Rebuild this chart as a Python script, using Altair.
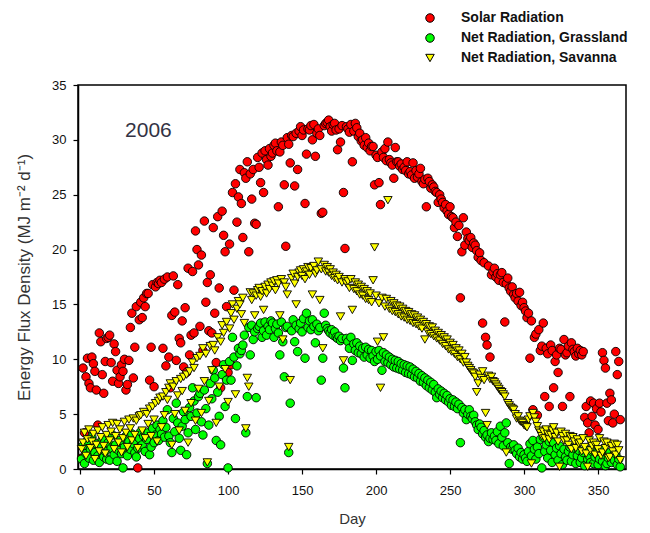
import altair as alt
import pandas as pd

days = list(range(1, 366))

solar = [
    1.0, 9.2, 3.3, 8.4, 10.1, 7.8, 7.4, 10.2, 9.6, 8.9,
    7.2, 4.0, 12.4, 11.6, 8.6, 6.9, 9.8, 11.9, 12.0, 12.2,
    9.7, 8.0, 11.4, 10.7, 9.0, 7.8, 8.4, 9.5, 8.9, 10.0,
    7.2, 7.7, 9.9, 12.9, 14.2, 8.3, 11.1, 14.8, 0.1, 13.6,
    15.2, 13.8, 15.6, 14.8, 16.0, 16.0, 8.1, 11.1, 16.8, 7.5,
    16.6, 17.0, 16.9, 17.2, 17.0, 11.0, 17.3, 9.4, 17.5, 10.2,
    7.4, 14.0, 17.6, 14.3, 9.9, 16.8, 11.9, 11.5, 13.5, 9.3,
    14.7, 8.8, 18.3, 10.4, 12.2, 18.0, 12.4, 21.7, 20.0, 18.6,
    13.0, 19.5, 10.8, 22.6, 15.2, 17.0, 12.6, 17.7, 12.4, 22.0,
    14.2, 9.7, 23.0, 16.5, 7.4, 23.5, 21.3, 19.8, 14.8, 8.8,
    20.5, 9.5, 25.2, 16.3, 26.0, 22.5, 24.8, 27.3, 24.2, 21.1,
    27.0, 26.5, 28.0, 19.8, 26.9, 24.6, 27.3, 22.4, 22.3, 28.4,
    27.5, 26.1, 28.8, 25.2, 29.0, 28.2, 27.7, 29.2, 28.5, 28.8,
    29.5, 29.7, 29.0, 23.9, 28.9, 29.8, 29.5, 25.9, 20.3, 30.2,
    29.6, 27.9, 30.4, 30.3, 25.8, 30.6, 27.3, 30.8, 31.2, 30.4,
    30.9, 24.2, 28.7, 31.0, 30.9, 31.3, 30.0, 31.4, 28.5, 30.6,
    31.0, 30.4, 23.3, 23.4, 31.3, 31.5, 31.6, 31.8, 31.2, 30.8,
    31.4, 31.5, 30.9, 29.1, 31.0, 29.8, 31.3, 25.2, 20.1, 31.2,
    31.0, 30.7, 31.4, 28.0, 30.8, 31.5, 31.1, 30.3, 30.6, 29.9,
    30.0, 29.5, 30.2, 29.3, 29.7, 29.0, 29.4, 29.4, 25.9, 28.6,
    28.4, 26.1, 24.1, 28.9, 28.4, 29.2, 28.1, 29.8, 28.2, 27.9,
    27.7, 26.5, 29.3, 28.0, 28.0, 27.6, 27.8, 27.3, 27.5, 27.2,
    28.0, 26.9, 27.1, 26.8, 27.9, 26.5, 27.2, 26.6, 26.9, 27.4,
    26.2, 26.0, 26.4, 23.9, 26.5, 26.2, 25.6, 25.9, 25.7, 25.3,
    25.2, 24.3, 25.0, 24.6, 24.3, 23.8, 24.1, 23.5, 23.2, 23.9,
    23.0, 22.9, 22.0, 22.5, 21.2, 22.2, 15.6, 19.8, 22.9, 20.4,
    21.6, 21.0, 20.8, 21.1, 20.2, 20.6, 20.4, 19.9, 19.3, 19.7,
    19.0, 13.3, 18.8, 12.0, 11.3, 18.5, 10.2, 17.7, 18.0, 18.3,
    17.5, 17.8, 17.2, 17.7, 17.9, 17.0, 13.4, 16.9, 17.4, 16.5,
    16.2, 16.6, 15.9, 15.6, 16.0, 15.3, 16.1, 14.9, 15.2, 14.7,
    14.4, 13.8, 14.2, 10.1, 13.5, 5.4, 12.0, 12.3, 4.9, 12.7,
    10.8, 11.2, 13.3, 6.6, 11.0, 10.5, 5.7, 11.3, 10.8, 7.4,
    9.8, 10.4, 8.8, 11.0, 10.9, 5.7, 11.8, 10.4, 10.6, 11.2,
    6.6, 11.5, 10.9, 10.7, 10.3, 11.0, 10.5, 10.8, 10.4, 10.7,
    4.7, 5.7, 4.2, 3.3, 6.2, 4.8, 6.0, 4.0, 5.5, 3.6,
    6.0, 5.2, 10.6, 9.9, 9.2, 6.0, 4.4, 6.9, 6.3, 4.2,
    5.0, 10.7, 8.6, 9.8, 4.5,
]

grassland = [
    0.9, 2.1, 0.5, 1.4, 2.6, 1.0, 1.8, 2.9, 0.8, 1.5,
    2.3, 1.2, 0.6, 2.0, 2.7, 1.1, 1.6, 0.9, 2.4, 0.8,
    1.9, 3.1, 1.3, 2.2, 0.7, 1.7, 2.6, 1.4, 0.1, 2.0,
    3.0, 1.2, 2.5, 1.8, 3.2, 2.3, 1.5, 1.1, 1.9, 2.8,
    3.4, 2.2, 3.0, 1.6, 2.7, 3.3, 1.3, 2.0, 3.7, 2.4,
    3.1, 4.0, 2.6, 3.6, 3.2, 4.4, 2.9, 3.8, 5.4, 3.0,
    2.4, 1.5, 4.6, 3.4, 6.0, 4.2, 2.8, 1.7, 3.9, 5.2,
    4.5, 1.3, 3.3, 5.6, 4.8, 7.4, 6.2, 3.6, 5.1, 6.6,
    6.9, 4.3, 3.1, 7.2, 5.5, 0.5, 4.0, 7.8, 6.4, 9.0,
    8.3, 2.6, 7.0, 4.8, 2.2, 8.6, 9.5, 5.7, 8.1, 0.1,
    9.8, 8.1, 12.0, 10.2, 4.6, 9.4, 11.0, 10.5, 10.8, 11.3,
    12.2, 3.3, 6.6, 12.9, 10.4, 13.1, 11.8, 12.5, 6.5, 12.8,
    13.0, 13.3, 12.0, 12.6, 13.4, 12.2, 13.0, 12.7, 13.5, 13.3,
    12.0, 12.8, 13.2, 12.4, 10.4, 13.4, 11.6, 8.4, 12.9, 13.0,
    1.5, 6.0, 12.6, 13.6, 11.6, 13.1, 10.7, 12.8, 13.3, 12.5,
    13.7, 10.1, 14.2, 12.9, 13.5, 12.7, 13.6, 13.0, 11.5, 13.2,
    12.6, 12.9, 8.1, 10.1, 14.2, 13.1, 12.8, 12.6, 12.4, 12.7,
    12.2, 12.5, 12.0, 11.9, 12.1, 11.7, 11.9, 9.2, 7.4, 11.9,
    11.6, 11.0, 12.0, 9.9, 11.4, 10.8, 11.5, 10.6, 11.2, 10.5,
    11.0, 10.2, 11.1, 10.4, 10.9, 10.1, 10.8, 10.3, 9.8, 10.7,
    10.0, 10.8, 10.3, 9.0, 10.6, 9.8, 10.4, 9.7, 10.2, 9.5,
    10.0, 9.3, 9.9, 9.2, 9.8, 9.1, 9.6, 9.0, 9.5, 8.8,
    9.4, 8.7, 9.3, 8.6, 9.1, 8.4, 8.9, 8.3, 8.7, 8.0,
    8.5, 7.9, 8.3, 7.6, 8.1, 7.4, 7.9, 7.2, 7.7, 7.0,
    6.5, 7.3, 6.8, 7.1, 6.5, 6.9, 6.3, 6.7, 6.1, 6.4,
    5.8, 6.3, 5.7, 6.1, 5.5, 5.9, 2.4, 5.6, 5.1, 5.4,
    4.5, 5.0, 5.4, 4.8, 4.6, 4.9, 4.3, 4.0, 3.6, 4.1,
    3.8, 3.2, 3.5, 2.9, 3.1, 2.5, 2.8, 3.3, 2.7, 3.0,
    2.6, 3.4, 2.3, 3.9, 2.9, 2.1, 3.3, 4.2, 2.4, 0.5,
    2.0, 1.8, 2.2, 1.7, 1.4, 1.9, 1.1, 1.5, 0.9, 1.3,
    1.0, 0.7, 1.6, 2.3, 1.2, 2.6, 1.8, 0.9, 2.0, 1.4,
    2.7, 0.1, 2.9, 1.6, 2.2, 1.0, 2.5, 1.7, 0.6, 2.4,
    1.3, 1.9, 0.8, 2.1, 1.4, 0.4, 1.8, 1.1, 0.8, 1.6,
    2.0, 0.7, 1.3, 1.9, 0.5, 1.2, 1.7, 0.6, 1.0, 1.5,
    0.3, 1.8, 0.9, 1.2, 0.6, 1.6, 0.5, 1.1, 1.4, 0.4,
    0.9, 1.7, 0.7, 1.3, 0.3, 0.5, 1.0, 1.5, 0.6, 1.2,
    0.8, 1.4, 0.4, 0.9, 0.2,
]

savanna = [
    1.8, 2.4, 3.3, 1.2, 2.7, 3.6, 1.9, 2.5, 3.2, 0.9,
    2.2, 3.5, 1.6, 2.9, 3.8, 2.1, 1.4, 3.1, 4.0, 2.6,
    3.4, 4.2, 1.8, 3.0, 4.1, 2.4, 3.6, 1.5, 2.8, 4.3,
    3.3, 2.0, 4.5, 3.7, 2.6, 4.6, 3.1, 4.4, 1.9, 4.8,
    4.9, 3.5, 5.2, 2.8, 5.0, 4.1, 5.5, 3.0, 5.7, 4.5,
    6.0, 2.5, 6.2, 6.5, 3.8, 6.6, 4.9, 7.0, 6.3, 7.4,
    7.8, 2.2, 7.5, 5.0, 8.0, 6.7, 3.5, 8.2, 7.1, 8.4,
    5.3, 8.6, 2.4, 8.9, 6.0, 9.7, 9.2, 4.4, 10.1, 7.3,
    10.3, 5.1, 11.0, 8.0, 10.5, 0.6, 6.2, 11.2, 9.0, 11.3,
    10.8, 4.2, 12.0, 7.5, 11.6, 13.1, 12.4, 9.1, 13.4, 6.1,
    12.8, 14.2, 15.0, 13.6, 6.8, 14.6, 15.3, 15.0, 14.1, 15.6,
    13.3, 3.7, 8.3, 7.5, 16.1, 15.4, 16.0, 14.0, 15.8, 16.3,
    16.5, 15.7, 16.2, 14.5, 16.6, 16.0, 16.8, 16.4, 17.0, 16.7,
    17.1, 16.3, 17.2, 16.9, 14.0, 17.3, 11.8, 17.0, 16.6, 15.9,
    2.0, 8.1, 17.4, 17.8, 16.9, 15.0, 17.5, 17.9, 18.1, 17.6,
    18.2, 17.3, 18.0, 18.4, 17.7, 18.3, 15.9, 18.5, 17.8, 18.1,
    18.9, 15.4, 18.2, 11.0, 18.6, 18.0, 18.4, 17.9, 18.2, 17.6,
    17.9, 17.4, 17.7, 17.2, 17.5, 13.9, 17.0, 9.9, 17.3, 16.9,
    17.1, 16.5, 17.3, 14.5, 16.4, 17.0, 16.2, 16.8, 15.9, 16.6,
    15.8, 16.4, 15.5, 16.2, 15.4, 16.0, 15.2, 17.2, 20.2, 15.8,
    11.6, 15.1, 7.4, 15.6, 12.0, 14.8, 15.5, 24.5, 14.6, 15.3,
    14.4, 15.1, 14.3, 14.9, 14.1, 14.8, 13.9, 14.6, 13.8, 14.4,
    13.6, 14.3, 13.5, 14.1, 13.3, 14.0, 13.2, 13.8, 13.0, 13.6,
    12.8, 13.4, 11.8, 13.2, 12.5, 13.0, 12.3, 12.9, 12.1, 12.6,
    11.9, 12.4, 11.7, 12.2, 11.4, 12.0, 11.2, 11.8, 10.9, 11.5,
    10.7, 11.3, 10.5, 11.0, 10.2, 10.8, 10.0, 10.5, 9.7, 10.2,
    9.7, 9.4, 9.2, 9.0, 8.8, 8.7, 8.4, 7.0, 7.8, 8.6,
    8.3, 8.9, 8.1, 5.1, 4.0, 8.5, 8.2, 8.4, 8.0, 7.9,
    7.7, 7.5, 7.3, 7.1, 7.0, 6.8, 6.6, 1.5, 6.0, 5.8,
    5.6, 5.5, 5.4, 5.0, 4.6, 4.8, 4.4, 4.3, 4.2, 4.0,
    3.9, 3.8, 4.5, 4.8, 0.5, 5.1, 4.7, 4.3, 3.9, 3.5,
    3.3, 3.0, 3.4, 2.8, 3.6, 3.2, 2.7, 3.1, 3.5, 3.8,
    2.9, 3.3, 2.5, 0.2, 3.4, 3.0, 2.6, 3.2, 2.6, 2.2,
    3.0, 1.8, 2.9, 2.5, 1.9, 2.7, 2.3, 2.4, 1.6, 2.8,
    2.0, 1.4, 0.2, 2.6, 1.7, 2.1, 2.4, 1.3, 2.2, 1.8,
    2.8, 1.2, 1.5, 2.5, 1.9, 2.4, 1.0, 1.1, 2.1, 1.6,
    2.3, 1.3, 2.2, 1.7, 0.8,
]

series_names = ["Solar Radiation", "Net Radiation, Grassland", "Net Radiation, Savanna"]
series_colors = ["#ff0000", "#00ff00", "#ffff00"]
series_shapes = ["circle", "circle", "triangle-down"]
series_sizes = [72, 72, 58]
year_label = ["2006"]
x_ticks = [0, 50, 100, 150, 200, 250, 300, 350]
y_ticks = [0, 5, 10, 15, 20, 25, 30, 35]

rows = []
for name, vals in zip(series_names, [solar, grassland, savanna]):
    for d, v in zip(days, vals):
        rows.append({"Day": d, "Value": v, "Series": name})
df = pd.DataFrame(rows)
df["ord"] = list(range(len(df)))

FONT = "Liberation Sans"

x_enc = alt.X("Day:Q", scale=alt.Scale(domain=[-1.4, 368.9], nice=False, zero=False),
              axis=alt.Axis(values=x_ticks, title="Day", format="d"))
y_enc = alt.Y("Value:Q", scale=alt.Scale(domain=[0, 35], nice=False),
              axis=alt.Axis(values=y_ticks, title="Energy Flux Density (MJ m\u207b\u00b2 d\u207b\u00b9)",
                            format="d", titleFontSize=17))

legend_opts = dict(title=None, orient="none", legendX=345, legendY=-74,
                   symbolSize=75, symbolStrokeColor="black", symbolStrokeWidth=1,
                   labelFont=FONT, labelFontSize=14, labelFontWeight="bold", labelColor="#111",
                   labelOffset=24, rowPadding=6, labelLimit=400)

points = alt.Chart(df).mark_point(filled=True, opacity=1, stroke="black", strokeWidth=0.9).encode(
    x=x_enc,
    y=y_enc,
    color=alt.Color("Series:N", scale=alt.Scale(domain=series_names, range=series_colors),
                    legend=alt.Legend(**legend_opts)),
    shape=alt.Shape("Series:N", scale=alt.Scale(domain=series_names, range=series_shapes),
                    legend=alt.Legend(**legend_opts)),
    size=alt.Size("Series:N", scale=alt.Scale(domain=series_names, range=series_sizes), legend=None),
    order=alt.Order("ord:Q"),
)

txt_df = pd.DataFrame({"Day": [30.4], "Value": [30.8], "label": year_label})
year_text = alt.Chart(txt_df).mark_text(align="left", baseline="middle", fontSize=21,
                                        font=FONT, color="#333344").encode(
    x=alt.X("Day:Q"), y=alt.Y("Value:Q"), text="label:N")

chart = alt.layer(points, year_text).properties(
    width=548, height=384,
    autosize=alt.AutoSizeParams(type="none"),
    padding={"left": 70, "top": 77, "right": 10, "bottom": 62},
).configure_view(
    stroke="black", strokeWidth=1.5
).configure_axis(
    grid=False, domainColor="black", domainWidth=1.5, tickColor="black", tickWidth=1.2,
    tickSize=5, labelFont=FONT, labelFontSize=13, labelColor="#111",
    titleFont=FONT, titleFontSize=15, titleFontWeight="normal", titleColor="#333"
).configure_axisY(labelPadding=7, titlePadding=18).configure_axisX(labelPadding=10, titlePadding=14)

chart.save("out.html", embed_options={"renderer": "svg", "actions": False})
